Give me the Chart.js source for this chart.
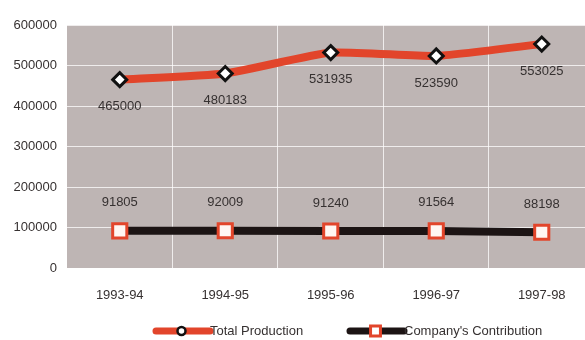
<!DOCTYPE html>
<html>
<head>
<meta charset="utf-8">
<script src="https://cdn.jsdelivr.net/npm/chart.js@4/dist/chart.umd.min.js"></script>
<style>
    html, body { margin: 0; padding: 0; background: #ffffff; overflow: hidden; }
    canvas { display: block; }
</style>
</head>
<body>
<canvas id="productionChart" width="585" height="340"></canvas>
<script>
const years = ['1993-94', '1994-95', '1995-96', '1996-97', '1997-98'];
const totalProduction = [465000, 480183, 531935, 523590, 553025];
const companyContribution = [91805, 92009, 91240, 91564, 88198];
const yTicks = [0, 100000, 200000, 300000, 400000, 500000, 600000];

const RED = '#e2452b';
const DARK = '#1c1414';
const PLOT_BG = '#beb5b4';
const TEXT = '#363131';
const FONT = { family: "'Liberation Sans', Arial, sans-serif", size: 13 };

// grey panel behind the plot
const panelBg = {
    id: 'panelBg',
    beforeDraw(chart) {
        const { ctx, chartArea: a } = chart;
        ctx.save();
        ctx.fillStyle = PLOT_BG;
        ctx.fillRect(a.left, a.top, a.right - a.left, a.bottom - a.top);
        ctx.restore();
    }
};

// value labels: production below the points, contribution above
const valueLabels = {
    id: 'valueLabels',
    afterDatasetsDraw(chart) {
        const ctx = chart.ctx;
        ctx.save();
        ctx.font = `${FONT.size}px ${FONT.family}`;
        ctx.fillStyle = TEXT;
        ctx.textAlign = 'center';
        ctx.textBaseline = 'middle';
        chart.data.datasets.forEach((ds, i) => {
            const shift = i === 0 ? 27 : -28;
            chart.getDatasetMeta(i).data.forEach((pt, j) => {
                ctx.fillText(String(ds.data[j].y), pt.x, pt.y + shift);
            });
        });
        ctx.restore();
    }
};

// legend: thick line sample with the marker on it
const lineLegend = {
    id: 'lineLegend',
    afterDraw(chart) {
        const ctx = chart.ctx;
        const y = 331;
        const starts = [153, 347];
        ctx.save();
        ctx.font = `${FONT.size}px ${FONT.family}`;
        ctx.textBaseline = 'middle';
        chart.data.datasets.forEach((ds, i) => {
            const x0 = starts[i];
            const x1 = x0 + 57;
            ctx.strokeStyle = ds.borderColor;
            ctx.lineWidth = 7;
            ctx.lineCap = 'round';
            ctx.beginPath();
            ctx.moveTo(x0 + 3, y);
            ctx.lineTo(x1, y);
            ctx.stroke();
            ctx.fillStyle = '#ffffff';
            ctx.strokeStyle = ds.pointBorderColor;
            ctx.lineWidth = i === 0 ? 2.5 : 3;
            Chart.helpers.drawPoint(ctx, {
                pointStyle: i === 0 ? 'circle' : 'rect',
                radius: i === 0 ? 4 : 7,
                rotation: 0,
                borderWidth: ctx.lineWidth
            }, (x0 + x1) / 2, y);
            ctx.fillStyle = TEXT;
            ctx.fillText(ds.label, x1, y);
        });
        ctx.restore();
    }
};

new Chart(document.getElementById('productionChart'), {
    type: 'line',
    data: {
        datasets: [
            {
                label: 'Total Production',
                data: totalProduction.map((v, i) => ({ x: i, y: v })),
                borderColor: RED,
                borderWidth: 8,
                pointStyle: 'rectRot',
                pointRadius: 7,
                pointBackgroundColor: '#ffffff',
                pointBorderColor: '#111111',
                pointBorderWidth: 3,
                tension: 0.15
            },
            {
                label: "Company's Contribution",
                data: companyContribution.map((v, i) => ({ x: i, y: v })),
                borderColor: DARK,
                borderWidth: 8,
                pointStyle: 'rect',
                pointRadius: 10,
                pointBackgroundColor: '#fff6f2',
                pointBorderColor: RED,
                pointBorderWidth: 3,
                tension: 0
            }
        ]
    },
    options: {
        responsive: false,
        animation: false,
        layout: { autoPadding: false, padding: { top: 25, right: 0, bottom: 0, left: 0 } },
        plugins: {
            legend: { display: false },
            tooltip: { enabled: false }
        },
        scales: {
            x: {
                type: 'linear',
                min: -0.5,
                max: 4.41,
                afterBuildTicks: s => { s.ticks = years.map((_, i) => ({ value: i })); },
                afterFit: s => { s.height = 72; s.paddingLeft = 0; s.paddingRight = 0; },
                grid: { display: false },
                border: { display: false },
                ticks: {
                    padding: 12,
                    color: TEXT,
                    font: FONT,
                    maxRotation: 0,
                    autoSkip: false,
                    callback: v => years[v]
                }
            },
            xg: {
                type: 'linear',
                position: 'bottom',
                min: -0.5,
                max: 4.41,
                afterBuildTicks: s => { s.ticks = [0.5, 1.5, 2.5, 3.5].map(v => ({ value: v })); },
                afterFit: s => { s.height = 0; s.paddingLeft = 0; s.paddingRight = 0; },
                grid: { color: 'rgba(255,255,255,0.75)', lineWidth: 1, drawTicks: false },
                border: { display: false },
                ticks: { display: false }
            },
            y: {
                min: 0,
                max: 600000,
                afterBuildTicks: s => { s.ticks = yTicks.map(v => ({ value: v })); },
                afterFit: s => { s.width = 67; },
                grid: { color: 'rgba(255,255,255,0.75)', lineWidth: 1, drawTicks: false },
                border: { display: false },
                ticks: { padding: 10, color: TEXT, font: FONT, autoSkip: false, callback: v => String(v) }
            }
        }
    },
    plugins: [panelBg, valueLabels, lineLegend]
});
</script>
</body>
</html>
